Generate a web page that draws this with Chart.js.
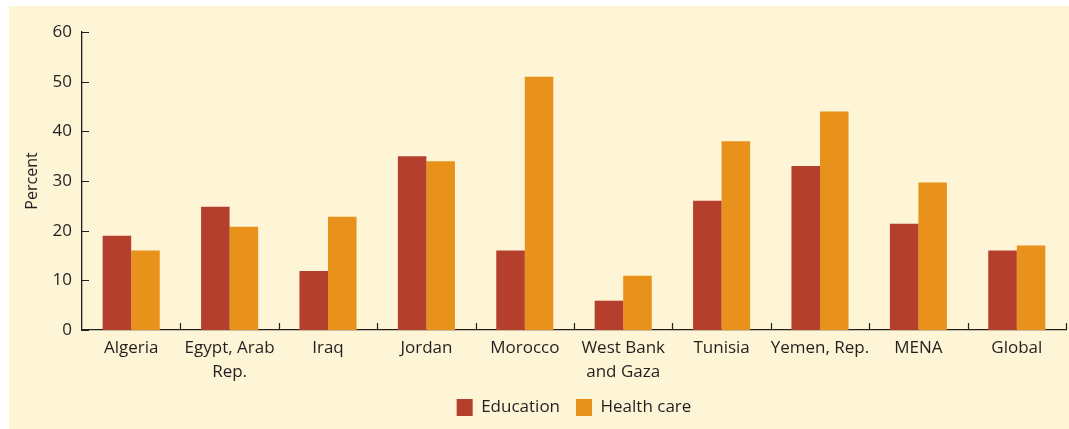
<!DOCTYPE html>
<html>
<head>
<meta charset="utf-8">
<script src="https://cdn.jsdelivr.net/npm/chart.js@4.4.0/dist/chart.umd.min.js"></script>
<style>
    html, body { margin: 0; padding: 0; background: #ffffff; }
    #wrap { width: 1069px; height: 429px; }
</style>
</head>
<body>
<div id="wrap"><canvas id="spendingChart"></canvas></div>
<script>
// Chart data
const countries = ['Algeria', ['Egypt, Arab', 'Rep.'], 'Iraq', 'Jordan', 'Morocco',
    ['West Bank', 'and Gaza'], 'Tunisia', 'Yemen, Rep.', 'MENA', 'Global'];
const education = [19, 24.8, 11.9, 35, 16, 5.9, 26, 33, 21.4, 16];
const healthCare = [16, 20.8, 22.8, 34, 51, 10.9, 38, 44, 29.7, 17];
const yTicks = [0, 10, 20, 30, 40, 50, 60];

const textColor = '#231f20';
const fontFamily = '"Open Sans", "Noto Sans", sans-serif';

// cream panel behind the chart
const panelBackground = {
    id: 'panelBackground',
    beforeDraw(chart) {
        const ctx = chart.ctx;
        ctx.save();
        ctx.fillStyle = '#fdf5d5';
        ctx.fillRect(9, 6, chart.width - 9, chart.height - 6);
        ctx.restore();
    }
};

// small inward ticks on both axes
const innerTicks = {
    id: 'innerTicks',
    afterDraw(chart) {
        const ctx = chart.ctx;
        const xs = chart.scales.x;
        const ys = chart.scales.y;
        const area = chart.chartArea;
        ctx.save();
        ctx.strokeStyle = textColor;
        ctx.lineWidth = 1.2;
        ctx.beginPath();
        ys.ticks.forEach((t, i) => {
            const y = Math.round(ys.getPixelForTick(i)) + 0.5;
            ctx.moveTo(area.left, y);
            ctx.lineTo(area.left + 7, y);
        });
        for (let i = 1; i <= countries.length; i++) {
            const x = Math.round(xs.getPixelForValue(i - 0.5)) + 0.5;
            ctx.moveTo(x, area.bottom);
            ctx.lineTo(x, area.bottom - 7);
        }
        ctx.stroke();
        ctx.restore();
    }
};

new Chart(document.getElementById('spendingChart'), {
    type: 'bar',
    data: {
        labels: countries,
        datasets: [{
            label: 'Education',
            data: education,
            backgroundColor: '#b33f2c'
        }, {
            label: 'Health care',
            data: healthCare,
            backgroundColor: '#e8921b'
        }]
    },
    options: {
        responsive: true,
        maintainAspectRatio: false,
        animation: false,
        devicePixelRatio: 1,
        layout: {
            padding: { top: 32, right: 3, left: 0, bottom: 3 }
        },
        datasets: {
            bar: {
                categoryPercentage: 0.58,
                barPercentage: 1
            }
        },
        plugins: {
            legend: {
                position: 'bottom',
                fullSize: false,
                labels: {
                    boxWidth: 16,
                    boxHeight: 17,
                    padding: 16,
                    color: textColor,
                    font: { family: fontFamily, size: 17 }
                }
            },
            tooltip: { enabled: false }
        },
        scales: {
            x: {
                offset: true,
                grid: { display: false, drawTicks: false },
                border: { display: true, color: textColor, width: 1.3 },
                ticks: {
                    color: textColor,
                    padding: 6,
                    maxRotation: 0,
                    autoSkip: false,
                    font: { family: fontFamily, size: 17, lineHeight: 1.4 }
                },
                afterFit(scale) {
                    scale.height = 53;
                }
            },
            y: {
                min: 0,
                max: 60,
                afterBuildTicks(scale) {
                    scale.ticks = yTicks.map(v => ({ value: v }));
                },
                grid: { display: false, drawTicks: false },
                border: { display: true, color: textColor, width: 1.3 },
                ticks: {
                    color: textColor,
                    padding: 10,
                    font: { family: fontFamily, size: 17 }
                },
                title: {
                    display: true,
                    text: 'Percent',
                    color: textColor,
                    padding: { top: 23, bottom: 0 },
                    font: { family: fontFamily, size: 16 }
                },
                afterFit(scale) {
                    scale.width = 82;
                }
            }
        }
    },
    plugins: [panelBackground, innerTicks]
});
</script>
</body>
</html>
